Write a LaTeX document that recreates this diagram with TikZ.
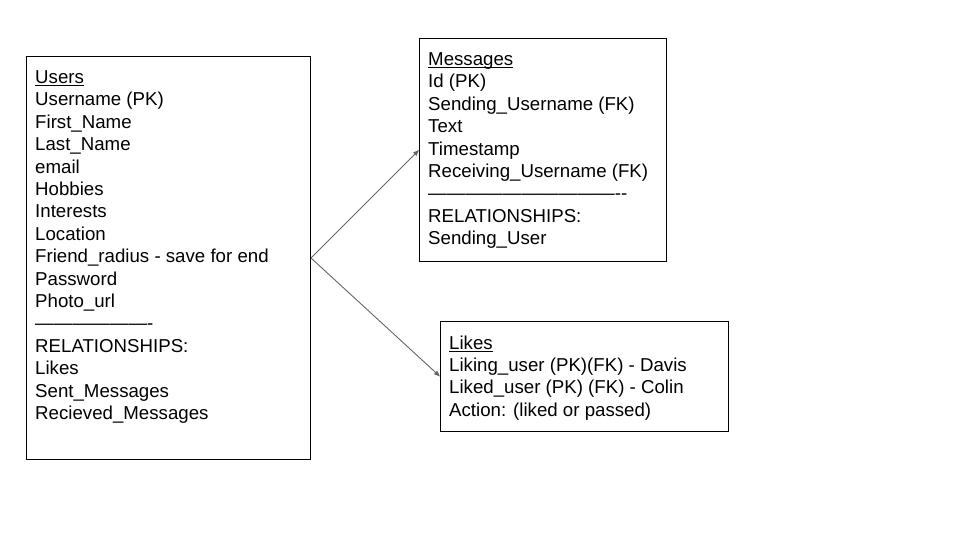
\documentclass[tikz,border=0pt]{standalone}
\usepackage{fontspec}
\setmainfont{Liberation Sans}
\usetikzlibrary{positioning, arrows.meta}

\newcommand{\hd}[1]{\setbox0\hbox{#1}\rlap{\rule[-2.6pt]{\wd0}{1.2pt}}\box0}

\begin{document}
\begin{tikzpicture}[x=1pt, y=-1pt, tbl/.style={draw, line width=1pt, anchor=north west, inner sep=0pt}, txt/.style={align=left, anchor=north west, inner sep=0pt, font=\fontsize{18.67}{22.4}\selectfont}, lnk/.style={-{Triangle[length=6pt,width=4.5pt]}, draw=black!60, line width=0.9pt}]
  \useasboundingbox (0,0) rectangle (960,540);

  \node[tbl, minimum width=284pt, minimum height=403pt] (users) at (26,56) {};
  \node[tbl, minimum width=247pt, minimum height=223pt] (msgs) at (419,38) {};
  \node[tbl, minimum width=288pt, minimum height=110pt] (likes) at (440,321) {};

  \node[txt] (usersTxt) at ([shift={(9,14.4)}]users.north west) {\hd{Users}\\ Username (PK)\\ First\_Name\\ Last\_Name\\ email\\ Hobbies\\ Interests\\ Location\\ Friend\_radius - save for end\\ Password\\ Photo\_url\\ ——————-\\ RELATIONSHIPS:\\ Likes\\ Sent\_Messages\\ Recieved\_Messages};
  \node[txt] (msgsTxt) at ([shift={(9,14.4)}]msgs.north west) {\hd{Messages}\\ Id (PK)\\ Sending\_Username (FK)\\ Text\\ Timestamp\\ Receiving\_Username (FK)\\ ——————————-\kern0pt-\\ RELATIONSHIPS:\\ Sending\_User};
  \node[txt] (likesTxt) at ([shift={(9,14.4)}]likes.north west) {\hd{Likes}\\ Liking\_user (PK)(FK) - Davis\\ Liked\_user (PK) (FK) - Colin\\ Action: (liked or passed)};

  \draw[lnk] (users.east) -- (msgs.west);
  \draw[lnk] (users.east) -- (likes.west);
\end{tikzpicture}
\end{document}
